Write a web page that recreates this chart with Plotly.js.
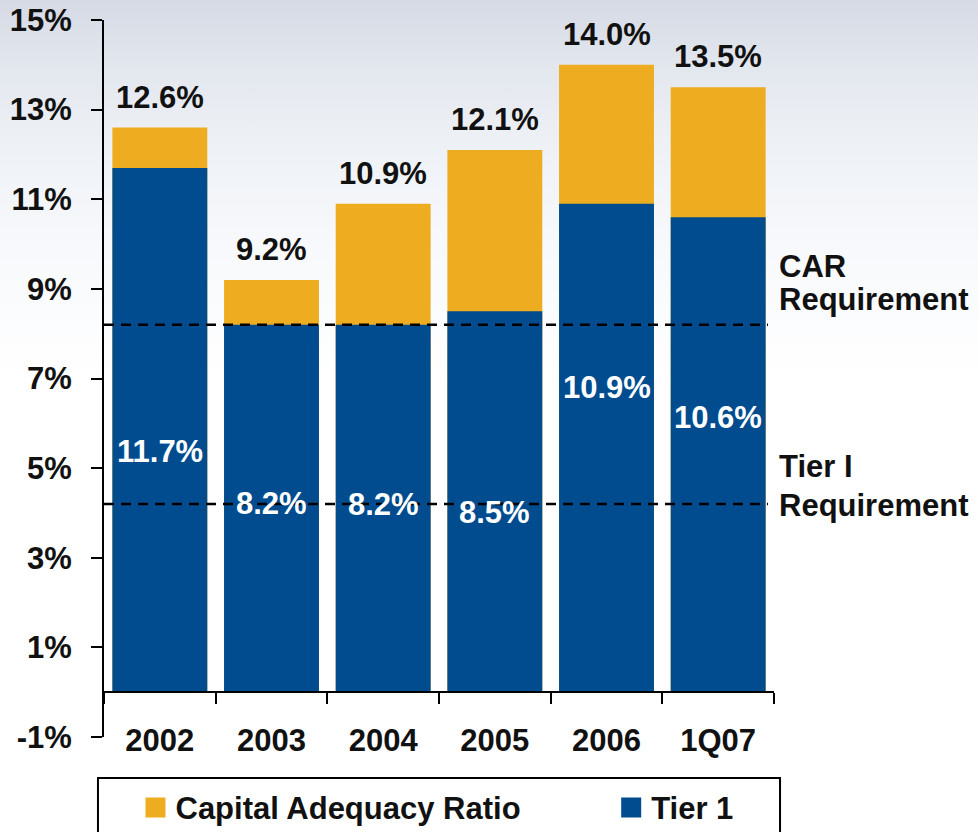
<!DOCTYPE html>
<html>
<head>
<meta charset="utf-8">
<script src="https://cdn.plot.ly/plotly-3.0.1.min.js"></script>
<style>
  html, body { margin: 0; padding: 0; }
  body {
    width: 978px; height: 832px; overflow: hidden;
    background: linear-gradient(to bottom, #d6dae5 0px, #e3e7ee 70px, #ecf0f5 130px, #f6f8fb 230px, #ffffff 380px, #ffffff 832px);
  }
  #chart { width: 978px; height: 832px; }
</style>
</head>
<body>
<div id="chart"></div>
<script>
// ---- data ----
var categories = ["2002", "2003", "2004", "2005", "2006", "1Q07"];
var carValues = [12.6, 9.2, 10.9, 12.1, 14.0, 13.5];     // Capital Adequacy Ratio (%)
var tier1Values = [11.7, 8.2, 8.2, 8.5, 10.9, 10.6];     // Tier 1 (%)
var carLabels = ["12.6%", "9.2%", "10.9%", "12.1%", "14.0%", "13.5%"];
var tier1Labels = ["11.7%", "8.2%", "8.2%", "8.5%", "10.9%", "10.6%"];
var yTickVals = [-1, 1, 3, 5, 7, 9, 11, 13, 15];
var yTickText = ["-1%", "1%", "3%", "5%", "7%", "9%", "11%", "13%", "15%"];
var carRequirement = 8.2;
var tier1Requirement = 4.2;
// label placement (where the white labels sit inside the blue bars, in %)
var tier1LabelPos = [5.36, 4.22, 4.18, 4.01, 6.79, 6.14];

var FONT = "Arial, 'Liberation Sans', Helvetica, sans-serif";
var FS = 31;
var YELLOW = "#EEAD20";
var BLUE = "#004C8F";

var traces = [
  {
    type: "bar", name: "Capital Adequacy Ratio",
    x: categories, y: carValues,
    marker: { color: YELLOW }, hoverinfo: "x+y",
    legend: "legend"
  },
  {
    type: "bar", name: "Tier 1",
    x: categories, y: tier1Values,
    marker: { color: BLUE }, hoverinfo: "x+y",
    legend: "legend2"
  }
];

var annotations = [];
categories.forEach(function (c, i) {
  annotations.push({
    x: i, y: carValues[i], xref: "x", yref: "y",
    text: carLabels[i], showarrow: false,
    xanchor: "center", yanchor: "bottom", yshift: 11,
    font: { family: FONT, size: FS, color: "#111111", weight: 700 }
  });
  annotations.push({
    x: i, y: tier1LabelPos[i], xref: "x", yref: "y",
    text: tier1Labels[i], showarrow: false,
    xanchor: "center", yanchor: "middle",
    font: { family: FONT, size: FS, color: "#ffffff", weight: 700 }
  });
});

var sideFont = { family: FONT, size: FS, color: "#111111", weight: 700 };
annotations.push({ x: 1.004, xref: "paper", xanchor: "left", y: 9.51, yref: "y", yanchor: "middle", text: "CAR", showarrow: false, font: sideFont });
annotations.push({ x: 1.004, xref: "paper", xanchor: "left", y: 8.77, yref: "y", yanchor: "middle", text: "Requirement", showarrow: false, font: sideFont });
annotations.push({ x: 1.004, xref: "paper", xanchor: "left", y: 5.03, yref: "y", yanchor: "middle", text: "Tier I", showarrow: false, font: sideFont });
annotations.push({ x: 1.004, xref: "paper", xanchor: "left", y: 4.16, yref: "y", yanchor: "middle", text: "Requirement", showarrow: false, font: sideFont });

var shapes = [
  { type: "line", xref: "paper", yref: "y", x0: 0, x1: 0.991, y0: carRequirement, y1: carRequirement,
    line: { color: "#000000", width: 2.5, dash: "10px,7px" } },
  { type: "line", xref: "paper", yref: "y", x0: 0, x1: 0.991, y0: tier1Requirement, y1: tier1Requirement,
    line: { color: "#000000", width: 2.5, dash: "10px,7px" } },
  // legend frame
  { type: "rect", xref: "paper", yref: "paper", x0: -0.009, x1: 1.009, y0: -0.16, y1: -0.0572,
    fillcolor: "#ffffff", line: { color: "#000000", width: 2 }, layer: "below" }
];

var legendFont = { family: FONT, size: FS, color: "#111111", weight: 700 };

var layout = {
  width: 978, height: 832,
  margin: { l: 104, r: 204, t: 20, b: 95, autoexpand: false },
  paper_bgcolor: "rgba(0,0,0,0)",
  plot_bgcolor: "rgba(0,0,0,0)",
  barmode: "overlay",
  bargap: 0.15,
  showlegend: true,
  legend: {
    orientation: "h", x: 0.047, xanchor: "left", y: -0.061, yanchor: "top",
    bgcolor: "rgba(0,0,0,0)", borderwidth: 0,
    font: legendFont
  },
  legend2: {
    orientation: "h", x: 0.757, xanchor: "left", y: -0.061, yanchor: "top",
    bgcolor: "rgba(0,0,0,0)", borderwidth: 0,
    font: legendFont
  },
  xaxis: {
    type: "category",
    range: [-0.5, 5.5],
    anchor: "free", position: 0.0625,
    automargin: false,
    showline: true, linecolor: "#000000", linewidth: 2,
    ticks: "outside", tickson: "boundaries", ticklen: 11, tickwidth: 2, tickcolor: "#000000",
    ticklabelstandoff: 21,
    tickangle: 0,
    showgrid: false, zeroline: false,
    tickfont: { family: FONT, size: FS, color: "#111111", weight: 700 }
  },
  yaxis: {
    range: [-1, 15],
    automargin: false,
    tickvals: yTickVals, ticktext: yTickText,
    showline: true, linecolor: "#000000", linewidth: 2,
    ticks: "outside", ticklen: 11, tickwidth: 2, tickcolor: "#000000",
    ticklabelstandoff: 13,
    showgrid: false, zeroline: false,
    tickfont: { family: FONT, size: FS, color: "#111111", weight: 700 }
  },
  annotations: annotations,
  shapes: shapes
};

Plotly.newPlot("chart", traces, layout, { displayModeBar: false, staticPlot: true }).then(function (gd) {
  // enlarge the legend swatches to the 20px squares of the original
  gd.querySelectorAll(".legendpoints path").forEach(function (p) {
    p.setAttribute("d", "M10,10H-10V-10H10Z");
  });
});
</script>
</body>
</html>
